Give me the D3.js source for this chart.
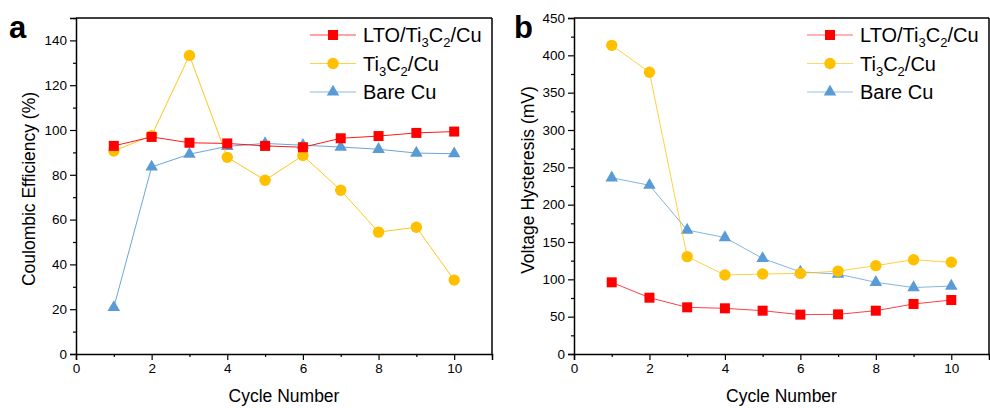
<!DOCTYPE html>
<html><head><meta charset="utf-8">
<script src="https://cdn.jsdelivr.net/npm/d3@7"></script>
<style>body{margin:0;background:#fff}svg{display:block}text{font-family:"Liberation Sans",Arial,sans-serif;fill:#000}</style>
</head><body><svg id="c" width="990" height="408"></svg>
<script>
const cycles = [1,2,3,4,5,6,7,8,9,10];
const seriesNames = ["LTO/Ti3C2/Cu","Ti3C2/Cu","Bare Cu"];
const colors = ["#FF0000","#FFC000","#5B9BD5"];
const ceLTO = [92.9,96.9,94.3,94.0,92.9,92.3,96.3,97.3,98.7,99.3];
const ceTi = [90.6,97.5,133.3,87.8,77.6,88.6,73.1,54.4,56.6,33.0];
const ceBare = [20.8,83.5,89.2,92.7,94.0,93.2,92.4,91.4,89.7,89.4];
const vhLTO = [96,75.4,62.5,61.2,58,52.7,53.1,58,67,72.3];
const vhTi = [413.4,377.3,130.4,105.8,107.1,108,111,118.3,126.3,122.8];
const vhBare = [236,226,166,156,128,110,107,96,89,91];
const xTicks = [0,2,4,6,8,10];
const ceTicks = [0,20,40,60,80,100,120,140];
const vhTicks = [0,50,100,150,200,250,300,350,400,450];

const svg = d3.select("#c");

function panel(opt){
  const g = svg.append("g");
  const x = d3.scaleLinear().domain([0,11]).range([opt.left, opt.right]);
  const y = d3.scaleLinear().domain([0,opt.ymax]).range([354,18]);
  g.append("line").attr("x1",opt.left).attr("x2",opt.right).attr("y1",18).attr("y2",18).attr("stroke","#000").attr("stroke-width",1.5);
  g.append("line").attr("x1",opt.right).attr("x2",opt.right).attr("y1",18).attr("y2",354).attr("stroke","#000").attr("stroke-width",1.5);
  const xa = g.append("g").attr("transform",`translate(0,354)`)
    .call(d3.axisBottom(x).tickValues(xTicks).tickSize(6).tickPadding(3).tickFormat(d3.format("d")));
  const xm = g.append("g").attr("transform",`translate(0,354)`)
    .call(d3.axisBottom(x).tickValues([1,3,5,7,9,11]).tickSize(3).tickFormat(""));
  const ya = g.append("g").attr("transform",`translate(${opt.left},0)`)
    .call(d3.axisLeft(y).tickValues(opt.ticks).tickSize(6).tickPadding(3).tickFormat(d3.format("d")));
  const ym = g.append("g").attr("transform",`translate(${opt.left},0)`)
    .call(d3.axisLeft(y).tickValues(opt.minor).tickSize(3).tickFormat(""));
  [xa,xm,ya,ym].forEach(a=>{
    a.select(".domain").attr("stroke","#000").attr("stroke-width",1.5);
    a.selectAll(".tick line").attr("stroke","#000").attr("stroke-width",1.2);
    a.selectAll("text").attr("font-size",13.5).attr("font-family","Liberation Sans, Arial");
  });
  xm.select(".domain").remove(); ym.select(".domain").remove();
  g.append("text").attr("x",(opt.left+opt.right)/2).attr("y",402).attr("text-anchor","middle").attr("font-size",17.5).text("Cycle Number");
  g.append("text").attr("transform",`translate(${opt.ylx},${opt.yly}) rotate(-90)`).attr("text-anchor","middle").attr("font-size",17.5).text(opt.ylabel);
  g.append("text").attr("x",opt.labx).attr("y",38).attr("font-size",31).attr("font-weight","bold").text(opt.panel);
  const data = opt.data;
  for (let s=2; s>=0; s--){
    const line = d3.line().x((d,i)=>x(cycles[i])).y(d=>y(d));
    g.append("path").attr("d",line(data[s])).attr("fill","none").attr("stroke",colors[s]).attr("stroke-width",1).attr("stroke-opacity",opt.lineOp);
    data[s].forEach((v,i)=>marker(g, s, x(cycles[i]), y(v)));
  }
  const lx = opt.legx;
  [0,1,2].forEach(s=>{
    const yy = 35 + s*28.5;
    g.append("line").attr("x1",lx).attr("x2",lx+46).attr("y1",yy).attr("y2",yy).attr("stroke",colors[s]).attr("stroke-width",1).attr("stroke-opacity",opt.lineOp*0.8);
    marker(g, s, lx+23, yy);
    const t = g.append("text").attr("x",lx+53).attr("y",yy+7).attr("font-size",20);
    if (s<2){
      t.append("tspan").text(s===0 ? "LTO/Ti" : "Ti");
      t.append("tspan").attr("font-size",13).attr("dy",5).text("3");
      t.append("tspan").attr("dy",-5).text("C");
      t.append("tspan").attr("font-size",13).attr("dy",5).text("2");
      t.append("tspan").attr("dy",-5).text("/Cu");
    } else t.text("Bare Cu");
  });
}
function marker(g, s, cx, cy){
  if (s===0) g.append("rect").attr("x",cx-5).attr("y",cy-5).attr("width",10).attr("height",10).attr("fill",colors[0]);
  else if (s===1) g.append("circle").attr("cx",cx).attr("cy",cy).attr("r",5.7).attr("fill",colors[1]);
  else g.append("path").attr("d",d3.symbol().type(d3.symbolTriangle).size(68)()).attr("transform",`translate(${cx},${cy})`).attr("fill",colors[2]);
}
panel({left:76,right:492,ymax:150,ticks:ceTicks,minor:[10,30,50,70,90,110,130,150],
  ylabel:"Coulombic Efficiency (%)",ylx:35,yly:189,labx:9,panel:"a",data:[ceLTO,ceTi,ceBare],legx:310,lineOp:0.9});
panel({left:574,right:989,ymax:450,ticks:vhTicks,minor:[25,75,125,175,225,275,325,375,425],
  ylabel:"Voltage Hysteresis (mV)",ylx:534,yly:180,labx:514,panel:"b",data:[vhLTO,vhTi,vhBare],legx:807,lineOp:0.75});
</script></body></html>
